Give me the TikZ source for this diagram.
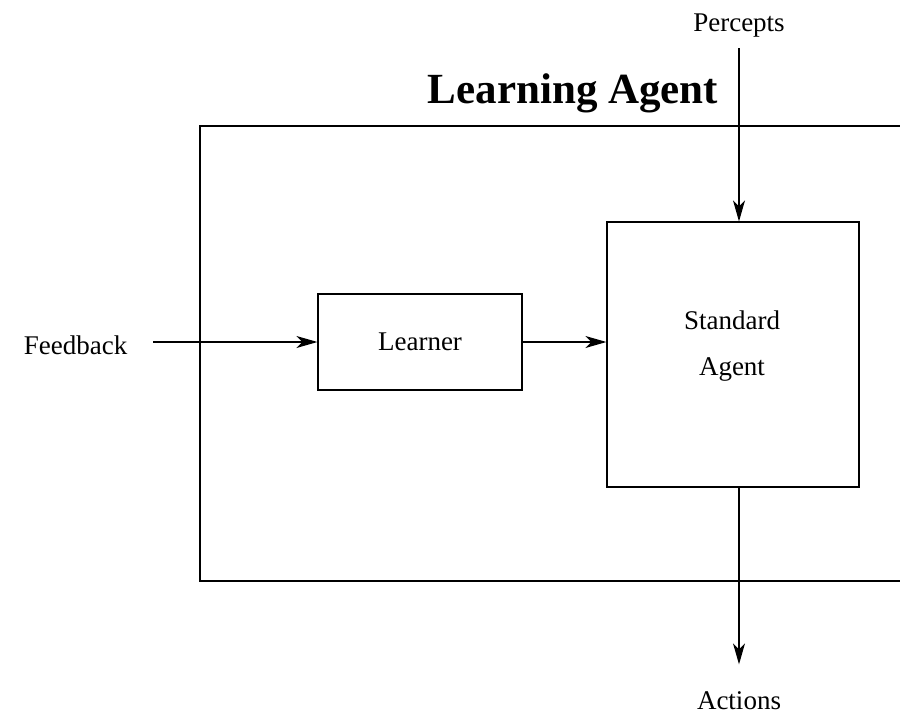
\documentclass[tikz,border=0pt]{standalone}
\usepackage{fontspec}
\setmainfont{Liberation Serif}
\usepackage{tikz}
\usetikzlibrary{arrows.meta,positioning,calc}
\newcommand{\lbl}{\fontsize{27}{46}\selectfont}
\newcommand{\ttl}{\fontsize{43}{50}\selectfont\bfseries}

\begin{document}
\begin{tikzpicture}[x=1pt,y=-1pt,line width=1.2pt,
    flow/.style={-{Stealth[length=21pt,width=12pt,inset=6pt]}},
    unit/.style={draw,inner sep=0pt}]
  \useasboundingbox (0,0) rectangle (900,716);
  \draw (900,126) -- (200,126) -- (200,581) -- (900,581);
  \node[font=\ttl] (title) at (573,93) {Learning Agent};
  \node[unit,minimum width=204pt,minimum height=96pt] (learner) at (420,342) {};
  \node[font=\lbl] (learnertxt) at (learner.center) {Learner};
  \node[unit,minimum width=252pt,minimum height=265pt] (agent) at (733,354.5) {};
  \node[font=\lbl,align=center] (agenttxt) at (732,346) {Standard\\Agent};
  \node[font=\lbl,inner xsep=25pt,anchor=east] (feedback) at (153,345) {Feedback};
  \node[font=\lbl,anchor=south,inner sep=10pt] (percepts) at (739,48) {Percepts};
  \node[font=\lbl,inner sep=2pt] (actions) at (739,701) {Actions};
  \draw[flow] (learner.west -| feedback.east) -- (learner.west);
  \draw[flow] (learner.east) -- (learner.east -| agent.west);
  \draw[flow] (percepts.south) -- (percepts.south |- agent.north);
  \draw[flow,shorten >=25pt] (actions.north |- agent.south) -- (actions.north);
\end{tikzpicture}
\end{document}
